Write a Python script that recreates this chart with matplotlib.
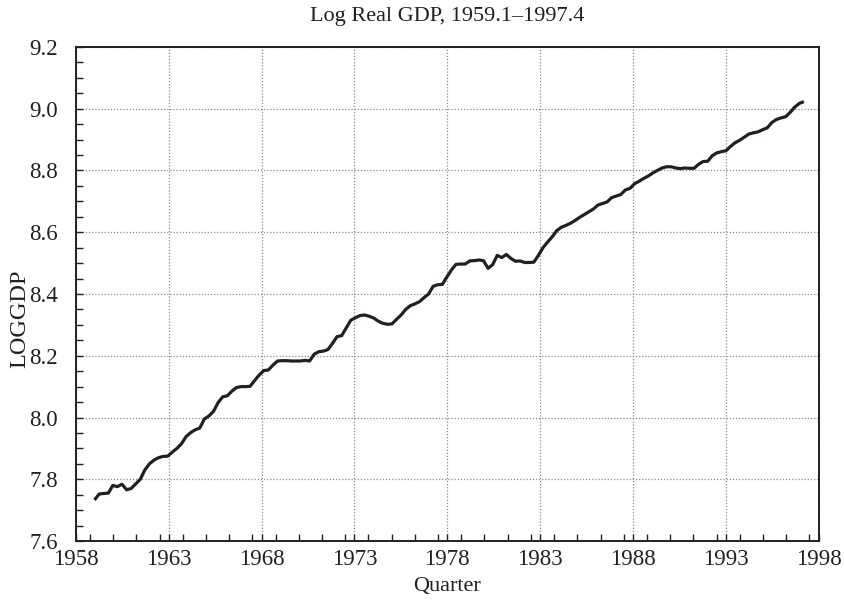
import numpy as np
import matplotlib
matplotlib.use('Agg')
import matplotlib.pyplot as plt
from matplotlib.ticker import MultipleLocator

plt.rcParams['font.family'] = ['Liberation Serif', 'DejaVu Serif']

# 季度对数实际GDP，1959.1 - 1997.4（每年4个季度）
loggdp_1959_1968 = [
    7.733, 7.752, 7.754, 7.755,   # 1959
    7.780, 7.776, 7.784, 7.766,   # 1960
    7.770, 7.785, 7.800, 7.830,   # 1961
    7.850, 7.862, 7.870, 7.874,   # 1962
    7.875, 7.888, 7.900, 7.915,   # 1963
    7.938, 7.951, 7.960, 7.966,   # 1964
    7.995, 8.005, 8.020, 8.048,   # 1965
    8.067, 8.070, 8.085, 8.097,   # 1966
    8.100, 8.100, 8.101, 8.120,   # 1967
    8.138, 8.152, 8.154, 8.170,   # 1968
]
loggdp_1969_1978 = [
    8.183, 8.184, 8.184, 8.183,   # 1969
    8.183, 8.183, 8.185, 8.183,   # 1970
    8.205, 8.213, 8.215, 8.220,   # 1971
    8.240, 8.262, 8.265, 8.290,   # 1972
    8.315, 8.323, 8.330, 8.332,   # 1973
    8.328, 8.322, 8.312, 8.305,   # 1974
    8.302, 8.303, 8.318, 8.332,   # 1975
    8.350, 8.362, 8.368, 8.375,   # 1976
    8.388, 8.400, 8.425, 8.430,   # 1977
    8.431, 8.455, 8.478, 8.496,   # 1978
]
loggdp_1979_1988 = [
    8.497, 8.497, 8.507, 8.508,   # 1979
    8.510, 8.508, 8.483, 8.495,   # 1980
    8.525, 8.518, 8.528, 8.515,   # 1981
    8.506, 8.507, 8.502, 8.502,   # 1982
    8.503, 8.525, 8.550, 8.568,   # 1983
    8.585, 8.605, 8.616, 8.622,   # 1984
    8.629, 8.638, 8.648, 8.657,   # 1985
    8.666, 8.675, 8.688, 8.693,   # 1986
    8.698, 8.712, 8.717, 8.722,   # 1987
    8.737, 8.742, 8.757, 8.765,   # 1988
]
loggdp_1989_1997 = [
    8.774, 8.782, 8.792, 8.800,   # 1989
    8.808, 8.812, 8.812, 8.808,   # 1990
    8.806, 8.808, 8.807, 8.807,   # 1991
    8.820, 8.829, 8.830, 8.848,   # 1992
    8.857, 8.861, 8.864, 8.878,   # 1993
    8.890, 8.898, 8.908, 8.918,   # 1994
    8.922, 8.925, 8.932, 8.938,   # 1995
    8.955, 8.965, 8.970, 8.974,   # 1996
    8.988, 9.005, 9.017, 9.023,   # 1997
]
loggdp = np.array(loggdp_1959_1968 + loggdp_1969_1978 + loggdp_1979_1988 + loggdp_1989_1997)

quarter = np.linspace(1959.0, 1997.2, len(loggdp))

x_ticks = [1958, 1963, 1968, 1973, 1978, 1983, 1988, 1993, 1998]
y_ticks = [7.6, 7.8, 8.0, 8.2, 8.4, 8.6, 8.8, 9.0, 9.2]

ink = '#231f20'

fig = plt.figure(figsize=(8.44, 6.02), dpi=100)
ax = fig.add_axes([0.090, 0.1013, 0.880, 0.8207])

ax.plot(quarter, loggdp, color=ink, linewidth=2.3, solid_capstyle='butt', zorder=3)

ax.set_xlim(1958, 1998)
ax.set_ylim(7.6, 9.2)
ax.set_xticks(x_ticks)
ax.set_yticks(y_ticks)
ax.set_yticklabels(['%.1f' % v for v in y_ticks])
ax.xaxis.set_minor_locator(MultipleLocator(1.25))
ax.yaxis.set_minor_locator(MultipleLocator(0.05))

ax.tick_params(which='both', direction='in', length=5, width=1.0, color=ink,
               labelsize=16.5, labelcolor=ink, top=False, right=False)
ax.tick_params(axis='x', which='major', pad=6)
ax.tick_params(axis='y', which='major', pad=13)

ax.grid(True, which='major', color='#8a8a8a', linestyle=(0, (1, 1.5)), linewidth=0.9)

for s in ax.spines.values():
    s.set_color(ink)
    s.set_linewidth(1.4)

ax.set_title('Log Real GDP, 1959.1\u20131997.4', fontsize=16, color=ink, pad=19)

ax.set_xlabel('Quarter', fontsize=16, color=ink)
ax.xaxis.label.set_va('center')
ax.xaxis.set_label_coords(0.5, -0.093)

ax.set_ylabel('LOGGDP', fontsize=17.5, color=ink)
ax.yaxis.label.set_va('center')
ax.yaxis.set_label_coords(-0.075, 0.45)

fig.savefig('out.png', dpi=100)
